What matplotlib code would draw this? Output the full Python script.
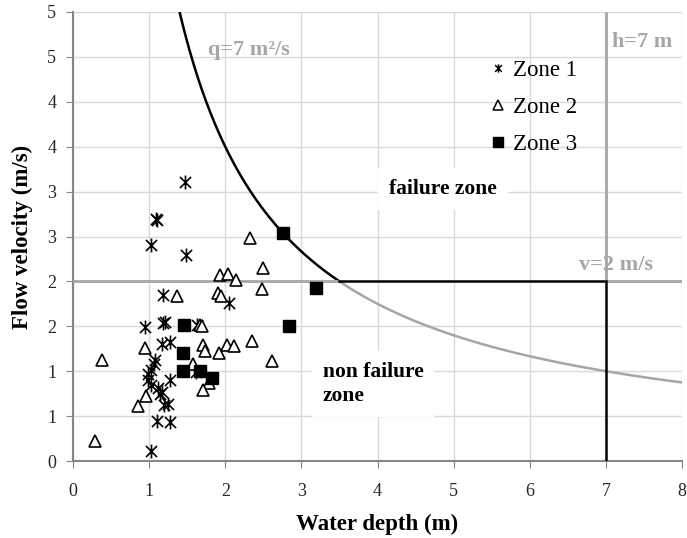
import numpy as np
import matplotlib
matplotlib.use("Agg")
import matplotlib.pyplot as plt
from matplotlib.path import Path
from matplotlib.lines import Line2D

# ---- data ----
zone1_depth = [1.47, 1.09, 1.10, 1.03, 1.48, 1.18, 2.05, 0.94, 1.18, 1.21, 1.63, 1.17, 1.27,
               1.08, 1.06, 1.03, 0.99, 0.99, 1.03, 1.12, 1.17, 1.14, 1.27, 1.19, 1.25, 1.10,
               1.27, 1.03, 1.62]
zone1_vel = [3.11, 2.69, 2.68, 2.41, 2.29, 1.85, 1.76, 1.49, 1.54, 1.55, 1.52, 1.30, 1.32,
             1.12, 1.08, 1.01, 0.97, 0.90, 0.85, 0.81, 0.77, 0.75, 0.90, 0.62, 0.63, 0.44,
             0.43, 0.11, 0.99]

zone2_depth = [2.33, 2.50, 1.93, 2.04, 2.14, 1.91, 1.95, 2.48, 1.37, 1.67, 1.69, 0.94, 0.38,
               1.71, 1.73, 1.92, 2.02, 2.12, 2.35, 2.61, 1.57, 1.78, 1.71, 0.96, 0.85, 0.29]
zone2_vel = [2.48, 2.15, 2.07, 2.08, 2.02, 1.87, 1.84, 1.92, 1.84, 1.51, 1.50, 1.26, 1.12,
             1.29, 1.22, 1.20, 1.29, 1.28, 1.34, 1.11, 1.08, 0.87, 0.79, 0.72, 0.61, 0.22]

zone3_depth = [2.76, 3.19, 2.84, 1.46, 1.45, 1.45, 1.67, 1.83]
zone3_vel = [2.54, 1.93, 1.50, 1.51, 1.20, 1.00, 1.00, 0.92]

q_limit = 7.0   # m2/s
v_limit = 2.0   # m/s
h_limit = 7.0   # m

x_ticks = [0, 1, 2, 3, 4, 5, 6, 7, 8]
y_ticks = [0, 0.5, 1, 1.5, 2, 2.5, 3, 3.5, 4, 4.5, 5]
y_tick_labels = ["0", "1", "1", "2", "2", "3", "3", "4", "4", "5", "5"]

plt.rcParams['font.family'] = ['Liberation Serif', 'DejaVu Serif']

fig = plt.figure(figsize=(6.87, 5.38), dpi=100)
ax = fig.add_axes([0.1063, 0.1431, 0.8864, 0.8346])

GRAY = '#a6a6a6'
AXGRAY = '#868686'

# grid
ax.set_axisbelow(True)
ax.grid(True, color='#d9d9d9', linewidth=1.0)

# boundary curve q = 7
h_curve_black = np.linspace(q_limit / 5.2, q_limit / v_limit, 200)
h_curve_gray = np.linspace(q_limit / v_limit, 8.0, 200)
ax.plot(h_curve_black, q_limit / h_curve_black, color='black', lw=1.8, zorder=3)
ax.plot(h_curve_gray, q_limit / h_curve_gray, color=GRAY, lw=1.8, zorder=3)

# v = 2 line
hb = q_limit / v_limit
ax.plot([0, hb], [v_limit, v_limit], color=GRAY, lw=2.0, zorder=3)
ax.plot([hb, h_limit], [v_limit, v_limit], color='black', lw=1.8, zorder=3)
ax.plot([h_limit, 8], [v_limit, v_limit], color=GRAY, lw=2.0, zorder=3)
# h = 7 line
ax.plot([h_limit, h_limit], [v_limit, 5], color=GRAY, lw=2.0, zorder=3)
ax.plot([h_limit, h_limit], [0, v_limit], color='black', lw=1.8, zorder=3)

# asterisk marker: X plus vertical bar
star = Path([(-1, -1), (1, 1), (-1, 1), (1, -1), (0, -1.25), (0, 1.25)],
            [Path.MOVETO, Path.LINETO, Path.MOVETO, Path.LINETO, Path.MOVETO, Path.LINETO])

ax.plot(zone1_depth, zone1_vel, linestyle='none', marker=star, markersize=10,
        markeredgecolor='black', markerfacecolor='none', markeredgewidth=1.2, zorder=4)
ax.plot(zone2_depth, zone2_vel, linestyle='none', marker='^', markersize=8.5,
        markeredgecolor='black', markerfacecolor='white', markeredgewidth=1.2, zorder=4)
ax.plot(zone3_depth, zone3_vel, linestyle='none', marker='s', markersize=8,
        markeredgecolor='black', markerfacecolor='black', zorder=5)

ax.set_xlim(0, 8)
ax.set_ylim(0, 5)
ax.set_xticks(x_ticks)
ax.set_xticklabels([str(t) for t in x_ticks])
ax.set_yticks(y_ticks)
ax.set_yticklabels(y_tick_labels)
ax.tick_params(axis='both', direction='out', length=5, color=AXGRAY, labelsize=13,
               labelcolor='#262626')
ax.tick_params(axis='x', pad=11)
ax.tick_params(axis='y', pad=7)

for s in ['top', 'right']:
    ax.spines[s].set_visible(False)
for s in ['left', 'bottom']:
    ax.spines[s].set_color(AXGRAY)
    ax.spines[s].set_linewidth(1.5)

ax.set_xlabel('Water depth (m)', fontsize=16.5, fontweight='bold', labelpad=10)
ax.set_ylabel('Flow velocity (m/s)', fontsize=16.5, fontweight='bold', labelpad=10)

# annotations
ax.text(1.77, 4.58, 'q=7 m²/s', color=GRAY, fontsize=16, fontweight='bold',
        va='center', ha='left')
ax.text(7.08, 4.67, 'h=7 m', color=GRAY, fontsize=16, fontweight='bold',
        va='center', ha='left')
ax.text(7.13, 2.18, 'v=2 m/s', color=GRAY, fontsize=16, fontweight='bold',
        va='center', ha='center')
ax.text(4.86, 3.03, 'failure zone', color='black', fontsize=15.5, fontweight='bold',
        va='center', ha='center',
        bbox=dict(facecolor='white', edgecolor='none', boxstyle='square,pad=0.5'))
ax.text(3.28, 0.86, 'non failure\nzone', color='black', fontsize=15.5, fontweight='bold',
        va='center', ha='left', linespacing=1.3,
        bbox=dict(facecolor='white', edgecolor='none', boxstyle='square,pad=0.5'))

handles = [
    Line2D([], [], linestyle='none', marker=star, markersize=6, markeredgecolor='black',
           markerfacecolor='none', markeredgewidth=1.1),
    Line2D([], [], linestyle='none', marker='^', markersize=6.5, markeredgecolor='black',
           markerfacecolor='white', markeredgewidth=1.1),
    Line2D([], [], linestyle='none', marker='s', markersize=6.5, markeredgecolor='black',
           markerfacecolor='black'),
]
leg = ax.legend(handles, ['Zone 1', 'Zone 2', 'Zone 3'], loc='upper left',
                bbox_to_anchor=(0.6685, 0.918), frameon=False, fontsize=16.5,
                handlelength=0.6, handletextpad=0.35, labelspacing=0.68, borderpad=0)

fig.savefig('out.png', dpi=100)
